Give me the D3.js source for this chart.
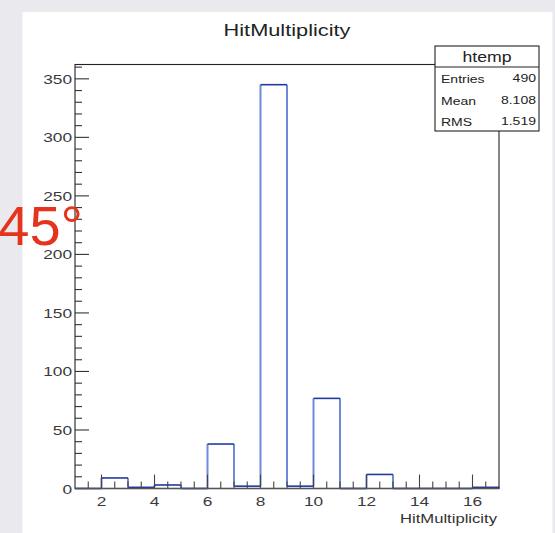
<!DOCTYPE html>
<html>
<head>
<meta charset="utf-8">
<script src="https://cdn.jsdelivr.net/npm/d3@7"></script>
<style>
  html, body { margin: 0; padding: 0; background: #e9e9ee; }
  svg { display: block; }
</style>
</head>
<body>
<svg id="chart" width="555" height="533"></svg>
<script>
// Histogram of hit multiplicity: lower edge of each unit-wide bin and its count
const binLow = [1, 2, 3, 4, 5, 6, 7, 8, 9, 10, 11, 12, 13, 14, 15, 16];
const counts = [0, 9, 1, 3, 0, 38, 2, 345, 2, 77, 0, 12, 0, 0, 0, 1];
const binWidth = 1;

const xTicks = [2, 4, 6, 8, 10, 12, 14, 16];
const yTicks = [0, 50, 100, 150, 200, 250, 300, 350];

const statsTitle = "htemp";
const statsNames = ["Entries", "Mean", "RMS"];
const statsValues = ["490", "8.108", "1.519"];

const titleText = "HitMultiplicity";
const xTitleText = "HitMultiplicity";
const angleText = "45\u00B0";

const W = 555, H = 533;
const frame = { left: 75, right: 499, top: 64.5, bottom: 488.5 };
const STRETCH = 1.28;           // glyphs are drawn horizontally widened
const FONT = "'Liberation Sans', Arial, Helvetica, sans-serif";

const svg = d3.select("#chart");

// canvas
svg.append("rect").attr("x", 0).attr("y", 0).attr("width", W).attr("height", H).attr("fill", "#e9e9ee");
svg.append("rect").attr("x", 22.5).attr("y", 12).attr("width", 530).attr("height", H - 12).attr("fill", "#ffffff");

const x = d3.scaleLinear().domain([binLow[0], binLow[binLow.length - 1] + binWidth]).range([frame.left, frame.right]);
const y = d3.scaleLinear().domain([0, d3.max(counts) * 1.05]).range([frame.bottom, frame.top]);

function stext(parent, px, py, str, opts) {
  const o = Object.assign({ size: 14, anchor: "start", fill: "#333", sx: STRETCH }, opts || {});
  return parent.append("text")
    .attr("transform", `translate(${px},${py}) scale(${o.sx},1)`)
    .attr("font-family", FONT)
    .attr("font-size", o.size)
    .attr("text-anchor", o.anchor)
    .attr("fill", o.fill)
    .text(str);
}

// histogram outline: verticals between neighbouring bins, flat tops per bin
const hist = svg.append("g").attr("fill", "none");
const edges = binLow.map((lo, i) => ({ xv: lo, from: i === 0 ? 0 : counts[i - 1], to: counts[i] }));
edges.push({ xv: binLow[binLow.length - 1] + binWidth, from: counts[counts.length - 1], to: 0 });

hist.selectAll("line.v").data(edges).join("line")
  .attr("class", "v")
  .attr("x1", d => x(d.xv)).attr("x2", d => x(d.xv))
  .attr("y1", d => y(d.from)).attr("y2", d => y(d.to))
  .attr("stroke", "#7089da").attr("stroke-width", 2);

hist.selectAll("line.h").data(binLow).join("line")
  .attr("class", "h")
  .attr("x1", (d) => x(d)).attr("x2", (d) => x(d + binWidth))
  .attr("y1", (d, i) => y(counts[i])).attr("y2", (d, i) => y(counts[i]))
  .attr("stroke", "#2239a2").attr("stroke-width", 1.6);

// frame
svg.append("rect")
  .attr("x", frame.left).attr("y", frame.top)
  .attr("width", frame.right - frame.left).attr("height", frame.bottom - frame.top)
  .attr("fill", "none").attr("stroke", "#222").attr("stroke-width", 1.1);

// y axis: ticks pointing into the frame
const yMinor = d3.range(0, y.domain()[1], 10);
const yAx = svg.append("g");
yAx.selectAll("line").data(yMinor).join("line")
  .attr("x1", frame.left)
  .attr("x2", d => frame.left + (yTicks.includes(d) ? 14 : 7))
  .attr("y1", d => y(d)).attr("y2", d => y(d))
  .attr("stroke", "#333").attr("stroke-width", 1.1);
yTicks.forEach(v => stext(yAx, 72, y(v) + 5, String(v), { size: 13.5, anchor: "end", fill: "#3a3a3e" }));

// x axis: ticks pointing up into the frame
const xMinor = d3.range(x.domain()[0] + 0.5, x.domain()[1], 0.5);
const xAx = svg.append("g");
xAx.selectAll("line").data(xMinor).join("line")
  .attr("x1", d => x(d)).attr("x2", d => x(d))
  .attr("y1", frame.bottom)
  .attr("y2", d => frame.bottom - (xTicks.includes(d) ? 14 : 7))
  .attr("stroke", "#444").attr("stroke-width", 1.1);
svg.append("line")
  .attr("x1", frame.left).attr("x2", frame.right)
  .attr("y1", frame.bottom).attr("y2", frame.bottom)
  .attr("stroke", "#555").attr("stroke-width", 1.6);
xTicks.forEach(v => stext(xAx, x(v), 505.5, String(v), { size: 13.5, anchor: "middle", fill: "#3a3a3e" }));

// axis title and chart title
stext(svg, 497, 523, xTitleText, { size: 13, anchor: "end", fill: "#333" });
stext(svg, 287, 36, titleText, { size: 17, anchor: "middle", fill: "#222" });

// statistics box
const box = { x: 435, y: 46, w: 104, h: 85, head: 21 };
const sb = svg.append("g");
sb.append("rect").attr("x", box.x).attr("y", box.y).attr("width", box.w).attr("height", box.h)
  .attr("fill", "#fff").attr("stroke", "#222").attr("stroke-width", 1.1);
sb.append("line").attr("x1", box.x).attr("x2", box.x + box.w)
  .attr("y1", box.y + box.head).attr("y2", box.y + box.head)
  .attr("stroke", "#222").attr("stroke-width", 1.1);
stext(sb, box.x + box.w / 2, box.y + 15.5, statsTitle, { size: 14.5, anchor: "middle", fill: "#222", sx: 1.22 });
statsNames.forEach((n, i) => {
  const yy = box.y + box.head + 16 + i * 21.5;
  stext(sb, box.x + 6, yy, n, { size: 11.5, anchor: "start", fill: "#222", sx: 1.22 });
  stext(sb, box.x + box.w - 3, yy - 1, statsValues[i], { size: 11.5, anchor: "end", fill: "#222", sx: 1.22 });
});

// overlaid angle annotation
svg.append("text")
  .attr("x", 83).attr("y", 245)
  .attr("font-family", FONT)
  .attr("font-size", 56)
  .attr("text-anchor", "end")
  .attr("fill", "#e6341c")
  .text(angleText);
</script>
</body>
</html>
